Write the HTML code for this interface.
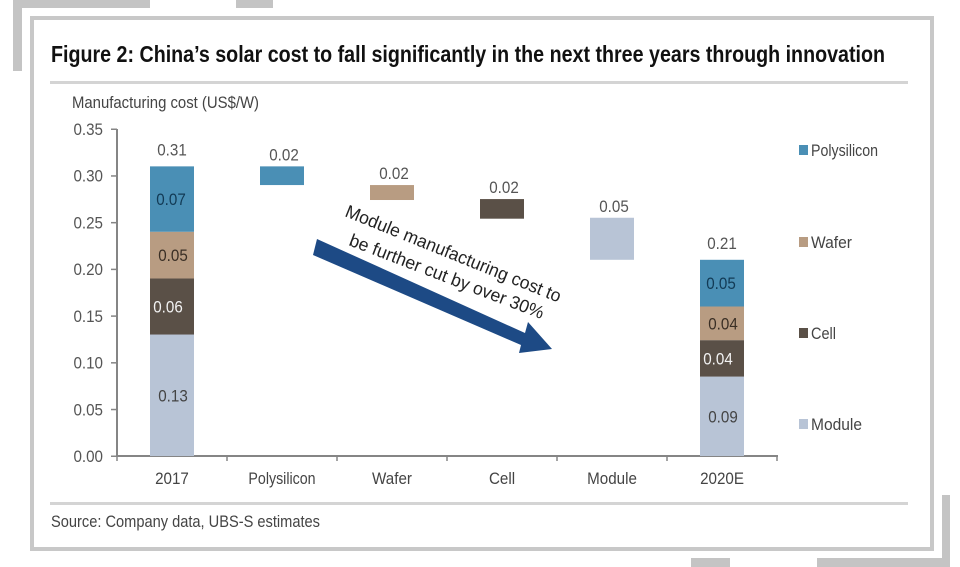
<!DOCTYPE html>
<html lang="en">
<head>
<meta charset="utf-8">
<title>China's solar cost chart</title>
<style>
html,body{margin:0;padding:0;background:#fff;}
svg{display:block;font-family:"Liberation Sans",sans-serif;filter:blur(0.35px);}
</style>
</head>
<body>
<svg id="chart" width="960" height="567" viewBox="0 0 960 567" xmlns="http://www.w3.org/2000/svg">
  <rect x="0" y="0" width="960" height="567" fill="#ffffff"/>
  <g fill="#c4c4c4">
    <rect x="13" y="0" width="137" height="8"/>
    <rect x="13" y="0" width="9" height="71"/>
    <rect x="236" y="0" width="37" height="8"/>
    <rect x="942" y="495" width="8" height="72"/>
    <rect x="817" y="558" width="133" height="9"/>
    <rect x="691" y="558" width="39" height="9"/>
  </g>
  <rect x="32" y="18" width="900" height="531" fill="none" stroke="#c8c8c8" stroke-width="4"/>
  <text x="51" y="62" font-size="23.5" font-weight="bold" fill="#111" textLength="834" lengthAdjust="spacingAndGlyphs">Figure 2: China’s solar cost to fall significantly in the next three years through innovation</text>
  <rect x="50" y="81" width="858" height="3" fill="#d4d4d4"/>
  <text x="72" y="108" font-size="17" fill="#444" textLength="187" lengthAdjust="spacingAndGlyphs">Manufacturing cost (US$/W)</text>
  <g id="marks"></g>
  <g>
    <polygon points="317,239 525,333 528,322 552,349 519,353 521,345 313,255" fill="#1d4a85"/>
    <text transform="translate(344,216) rotate(22)" font-size="18" fill="#222" textLength="231" lengthAdjust="spacingAndGlyphs">Module manufacturing cost to</text>
    <text transform="translate(348,245) rotate(21)" font-size="18" fill="#222" textLength="207" lengthAdjust="spacingAndGlyphs">be further cut by over 30%</text>
  </g>
  <rect x="50" y="502" width="858" height="3" fill="#d4d4d4"/>
  <text x="51" y="527" font-size="16.5" fill="#444" textLength="269" lengthAdjust="spacingAndGlyphs">Source:  Company data, UBS-S estimates</text>
  <g>
    <g>
      <rect x="799" y="145" width="9" height="10" fill="#4a8fb5"/>
      <text x="811" y="156" font-size="17" fill="#444" textLength="67" lengthAdjust="spacingAndGlyphs">Polysilicon</text>
    </g>
    <g>
      <rect x="799" y="237" width="9" height="10" fill="#b89c82"/>
      <text x="811" y="248" font-size="17" fill="#444" textLength="41" lengthAdjust="spacingAndGlyphs">Wafer</text>
    </g>
    <g>
      <rect x="799" y="328" width="9" height="10" fill="#5a5047"/>
      <text x="811" y="339" font-size="17" fill="#444" textLength="25" lengthAdjust="spacingAndGlyphs">Cell</text>
    </g>
    <g>
      <rect x="799" y="419" width="9" height="10" fill="#b8c4d6"/>
      <text x="811" y="430" font-size="17" fill="#444" textLength="51" lengthAdjust="spacingAndGlyphs">Module</text>
    </g>
  </g>
</svg>
<script>
const categories = ['2017', 'Polysilicon', 'Wafer', 'Cell', 'Module', '2020E'];
const yTicks = [0, 0.05, 0.10, 0.15, 0.20, 0.25, 0.30, 0.35];
const stackModule = [0.13, 0.085];
const stackCell = [0.06, 0.039];
const stackWafer = [0.05, 0.036];
const stackPolysilicon = [0.07, 0.05];
const totals = [0.31, 0.21];
const stepStart = [0.31, 0.29, 0.275, 0.255];
const stepDrop = [0.02, 0.016, 0.021, 0.045];
const stepLabels = ['0.02', '0.02', '0.02', '0.05'];

const NS = 'http://www.w3.org/2000/svg';
const marks = document.getElementById('marks');
const axisLeft = 117, axisRight = 777, axisBottom = 456, axisTop = 129;
const yMax = 0.35, barWidth = 44, squeeze = 0.92;
function xCenter(i) { return axisLeft + (axisRight - axisLeft) * (i + 0.5) / categories.length; }
function yPos(v) { return axisBottom - (axisBottom - axisTop) * v / yMax; }

function addRect(x, y, w, h, fill) {
  const el = document.createElementNS(NS, 'rect');
  el.setAttribute('x', x);
  el.setAttribute('y', y);
  el.setAttribute('width', w);
  el.setAttribute('height', h);
  el.setAttribute('fill', fill);
  marks.appendChild(el);
  return el;
}
function addText(str, x, y, anchor, fill) {
  const el = document.createElementNS(NS, 'text');
  el.setAttribute('transform', 'translate(' + x + ',' + y + ') scale(' + squeeze + ',1)');
  el.setAttribute('text-anchor', anchor);
  el.setAttribute('font-size', '16.5');
  el.setAttribute('fill', fill);
  el.textContent = str;
  marks.appendChild(el);
  return el;
}

const yAxis = addRect(axisLeft - 1, axisTop, 2, axisBottom - axisTop + 1, '#858585');


const xAxis = addRect(axisLeft - 1, axisBottom - 1, axisRight - axisLeft + 2, 2, '#858585');



yTicks.forEach(function (t) {
  const tick = addRect(axisLeft - 6, yPos(t) - 0.5, 6, 1.5, '#858585');
  
  
  const lab = addText(t.toFixed(2), 103, yPos(t) + 6, 'end', '#555');
  
  
});

for (let i = 0; i <= categories.length; i++) {
  const tx = axisLeft + (axisRight - axisLeft) * i / categories.length;
  const tick = addRect(tx - 0.75, axisBottom, 1.5, 5, '#858585');
  
  
}
categories.forEach(function (c, i) {
  const lab = addText(c, xCenter(i), 484, 'middle', '#444');
  
  
  if (c === 'Polysilicon') {
    lab.setAttribute('textLength', '73');
    lab.setAttribute('lengthAdjust', 'spacingAndGlyphs');
  }
});

const colModule = '#b8c4d6', colCell = '#5a5047', colWafer = '#b89c82', colPoly = '#4a8fb5';
function drawStack(slot, catIndex) {
  const layers = [
    { v: stackModule[slot], fill: colModule, text: '#444', nudge: 1 },
    { v: stackCell[slot], fill: colCell, text: '#f2f2f2', nudge: -4 },
    { v: stackWafer[slot], fill: colWafer, text: '#3a2f25', nudge: 1 },
    { v: stackPolysilicon[slot], fill: colPoly, text: '#123a55', nudge: -1 }
  ];
  let base = 0;
  layers.forEach(function (l) {
    const top = yPos(base + l.v), bottom = yPos(base);
    const seg = addRect(xCenter(catIndex) - barWidth / 2, top, barWidth, bottom - top, l.fill);
    
    
    const lab = addText(l.v.toFixed(2), xCenter(catIndex) + l.nudge, (top + bottom) / 2 + 6, 'middle', l.text);
    
    
    base += l.v;
  });
  const total = addText(totals[slot].toFixed(2), xCenter(catIndex), yPos(totals[slot]) - 11, 'middle', '#555');
  
  
}
drawStack(0, 0);
drawStack(1, 5);

const stepColors = [colPoly, colWafer, colCell, colModule];
stepStart.forEach(function (s, i) {
  const top = yPos(s), bottom = yPos(s - stepDrop[i]);
  const bar = addRect(xCenter(i + 1) - barWidth / 2, top, barWidth, bottom - top, stepColors[i]);
  
  
  const lab = addText(stepLabels[i], xCenter(i + 1) + 2, top - 6, 'middle', '#555');
  
  
});
</script>
</body>
</html>
